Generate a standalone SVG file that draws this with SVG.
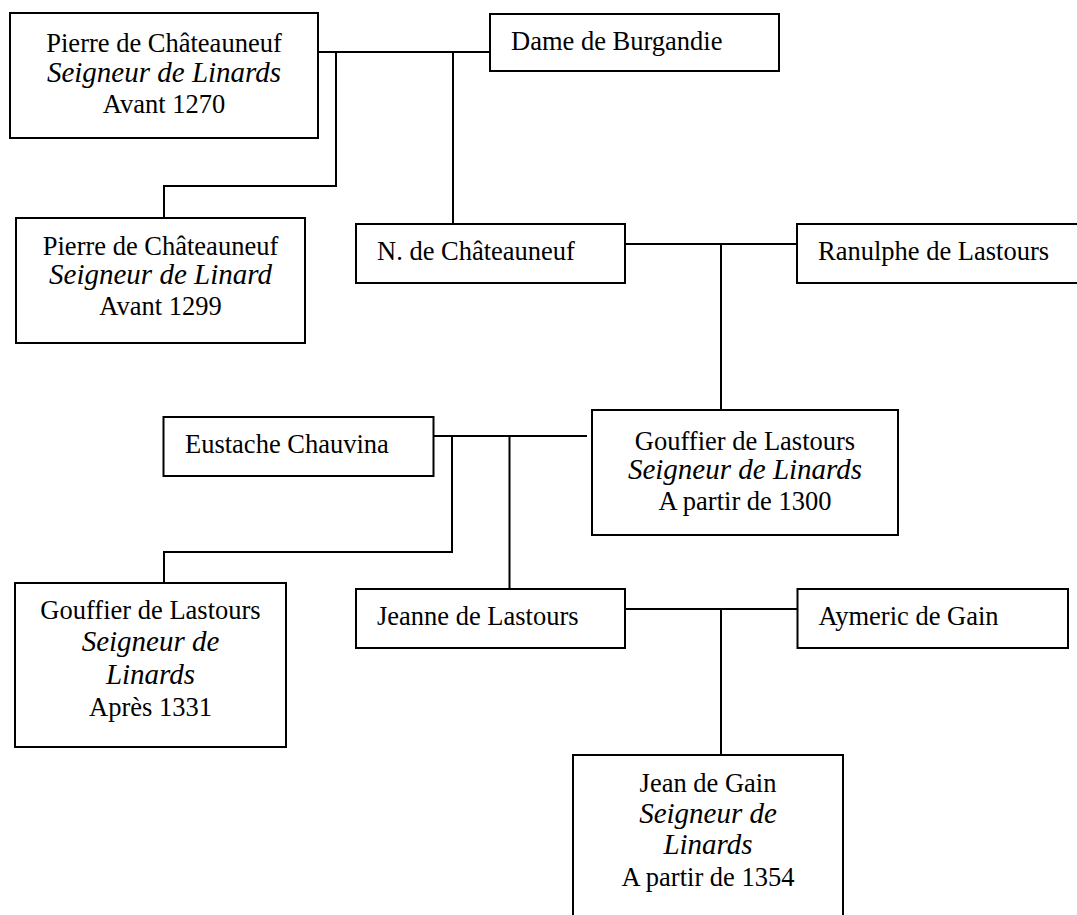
<svg xmlns="http://www.w3.org/2000/svg" width="1077" height="915" viewBox="0 0 1077 915">
<style>
  .box { fill: #fff; stroke: #000; stroke-width: 2; }
  .t { font-family: "Liberation Serif", "Times New Roman", "DejaVu Serif", serif; font-size: 26.5px; fill: #000; }
  .c { text-anchor: middle; }
  .i { font-style: italic; font-size: 29px; }
  .ln { fill: none; stroke: #000; stroke-width: 2; }
</style>
<rect width="1077" height="915" fill="#fff"/>
<g id="connectors">
  <path class="ln" d="M318 52 H490"/>
  <path class="ln" d="M336 52 V186 H164 V218"/>
  <path class="ln" d="M453 52 V224"/>
  <path class="ln" d="M625 244 H797"/>
  <path class="ln" d="M721 244 V410"/>
  <path class="ln" d="M433 436 H587"/>
  <path class="ln" d="M452 436 V552 H164 V583"/>
  <path class="ln" d="M509.5 436 V589"/>
  <path class="ln" d="M625 609 H797"/>
  <path class="ln" d="M721 609 V755"/>
</g>
<g id="n-pierre-1270">
  <rect class="box" x="10" y="13" width="308" height="125"/>
  <text class="t c" x="164" y="52">Pierre de Châteauneuf</text>
  <text class="t c i" x="164" y="82">Seigneur de Linards</text>
  <text class="t c" x="164" y="113">Avant 1270</text>
</g>
<g id="n-dame">
  <rect class="box" x="490" y="14" width="289" height="57"/>
  <text class="t" x="511" y="50">Dame de Burgandie</text>
</g>
<g id="n-pierre-1299">
  <rect class="box" x="16" y="218" width="289" height="125"/>
  <text class="t c" x="160.5" y="255">Pierre de Châteauneuf</text>
  <text class="t c i" x="160.5" y="284">Seigneur de Linard</text>
  <text class="t c" x="160.5" y="315">Avant 1299</text>
</g>
<g id="n-n-chateauneuf">
  <rect class="box" x="356" y="224" width="269" height="59"/>
  <text class="t" x="377" y="260">N. de Châteauneuf</text>
</g>
<g id="n-ranulphe">
  <rect class="box" x="797" y="224" width="285" height="59"/>
  <text class="t" x="818" y="260">Ranulphe de Lastours</text>
</g>
<g id="n-eustache">
  <rect class="box" x="163.5" y="417" width="270" height="59"/>
  <text class="t" x="185" y="453">Eustache Chauvina</text>
</g>
<g id="n-gouffier-1300">
  <rect class="box" x="592" y="410" width="306" height="125"/>
  <text class="t c" x="745" y="450">Gouffier de Lastours</text>
  <text class="t c i" x="745" y="479">Seigneur de Linards</text>
  <text class="t c" x="745" y="510">A partir de 1300</text>
</g>
<g id="n-gouffier-1331">
  <rect class="box" x="15" y="583" width="271" height="164"/>
  <text class="t c" x="150.5" y="619">Gouffier de Lastours</text>
  <text class="t c i" x="150.5" y="651">Seigneur de</text>
  <text class="t c i" x="150.5" y="684">Linards</text>
  <text class="t c" x="150.5" y="716">Après 1331</text>
</g>
<g id="n-jeanne">
  <rect class="box" x="356" y="589" width="269" height="59"/>
  <text class="t" x="377" y="625">Jeanne de Lastours</text>
</g>
<g id="n-aymeric">
  <rect class="box" x="797.5" y="589" width="270.5" height="59"/>
  <text class="t" x="818.5" y="625">Aymeric de Gain</text>
</g>
<g id="n-jean">
  <rect class="box" x="573" y="755" width="270" height="180"/>
  <text class="t c" x="708" y="792">Jean de Gain</text>
  <text class="t c i" x="708" y="823">Seigneur de</text>
  <text class="t c i" x="708" y="854">Linards</text>
  <text class="t c" x="708" y="886">A partir de 1354</text>
</g>
</svg>
